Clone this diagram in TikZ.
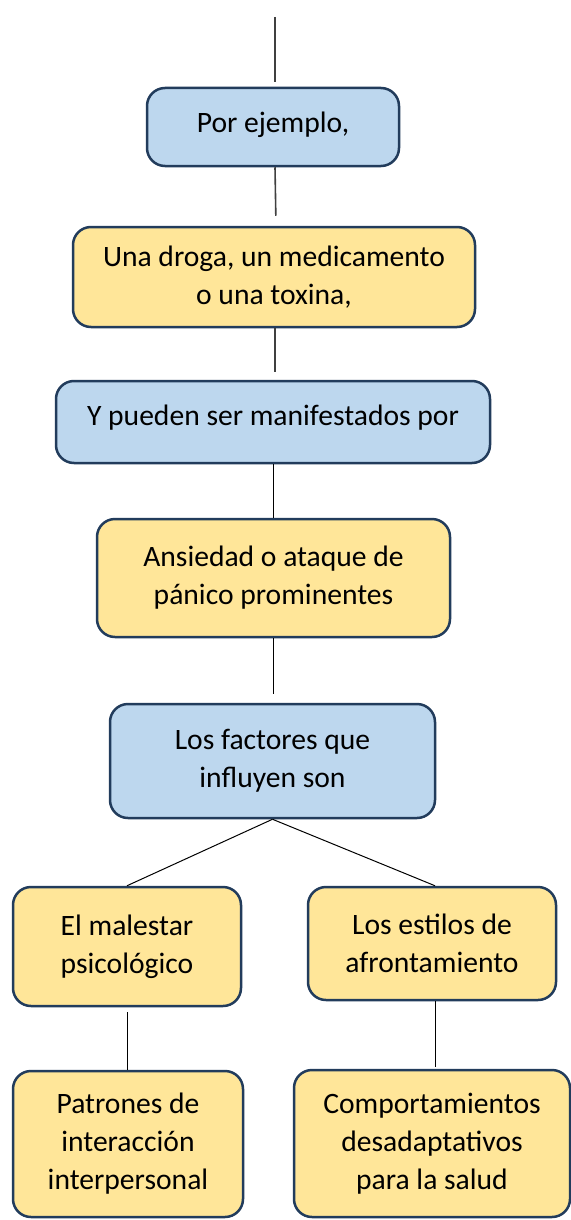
\documentclass[tikz,border=0pt]{standalone}
\usepackage{fontspec}
\setmainfont{Carlito}
\definecolor{bluefill}{HTML}{BDD7EE}
\definecolor{yellowfill}{HTML}{FFE699}
\definecolor{boxborder}{HTML}{223C5C}
\definecolor{linegray}{HTML}{404040}
\begin{document}
\begin{tikzpicture}[x=0.5pt,y=-0.5pt,
  box/.style={draw=boxborder, line width=1.25pt, rounded corners=9pt, inner sep=0pt, align=center,
    font=\fontsize{14.8}{19}\selectfont, text=black},
  bluebox/.style={box, fill=bluefill},
  yellowbox/.style={box, fill=yellowfill},
  conn/.style={draw=black, line width=0.5pt},
  gconn/.style={draw=linegray, line width=0.8pt}]
\fill[white] (0,0) rectangle (571,1220);
\useasboundingbox (0,0) rectangle (571,1220);
\coordinate (t) at (275,17);
\node[bluebox, minimum width=126pt, minimum height=39pt] (b1) at (273,127) {\raisebox{5pt}{Por ejemplo,}};
\node[yellowbox, minimum width=201pt, minimum height=50pt] (b2) at (274,277) {Una droga, un medicamento\\o una toxina,};
\node[bluebox, minimum width=217pt, minimum height=41pt] (b3) at (273,422) {\raisebox{7pt}{Y pueden ser manifestados por}};
\node[yellowbox, minimum width=176.5pt, minimum height=59pt] (b4) at (273.5,578) {Ansiedad o ataque de\\pánico prominentes};
\node[bluebox, minimum width=162.5pt, minimum height=57pt] (b5) at (272.5,761) {Los factores que\\influyen son};
\node[yellowbox, minimum width=114pt, minimum height=59.5pt] (b6) at (127,946.5) {El malestar\\psicológico};
\node[yellowbox, minimum width=124pt, minimum height=56.5pt] (b7) at (432,943.5) {Los estilos de\\afrontamiento};
\node[yellowbox, minimum width=115pt, minimum height=73pt] (b8) at (128,1144) {Patrones de\\interacción\\interpersonal};
\node[yellowbox, minimum width=138pt, minimum height=73.5pt] (b9) at (432,1143.5) {Comportamientos\\desadaptativos\\para la salud};
\draw[gconn, shorten >=2.5pt] (t) -- (t |- b1.north);
\draw[gconn, shorten >=5pt] ([xshift=1pt]b1.south) -- ([xshift=1pt]b2.north);
\draw[gconn, shorten >=4pt] ([xshift=0.5pt]b2.south) -- ([xshift=0.5pt]b2.south |- b3.north);
\draw[conn] (b3.south) -- (b3.south |- b4.north);
\draw[conn, shorten >=4.5pt] (b4.south) -- (b4.south |- b5.north);
\draw[conn] (b5.south) -- (b6.north);
\draw[conn] (b5.south) -- (b7.north -| 435,0);
\draw[conn, shorten <=2.5pt] (b6.south) -- (b6.south |- b8.north);
\draw[conn, shorten >=1pt] ([xshift=1.5pt]b7.south) -- ([xshift=1.5pt]b7.south |- b9.north);
\end{tikzpicture}
\end{document}
